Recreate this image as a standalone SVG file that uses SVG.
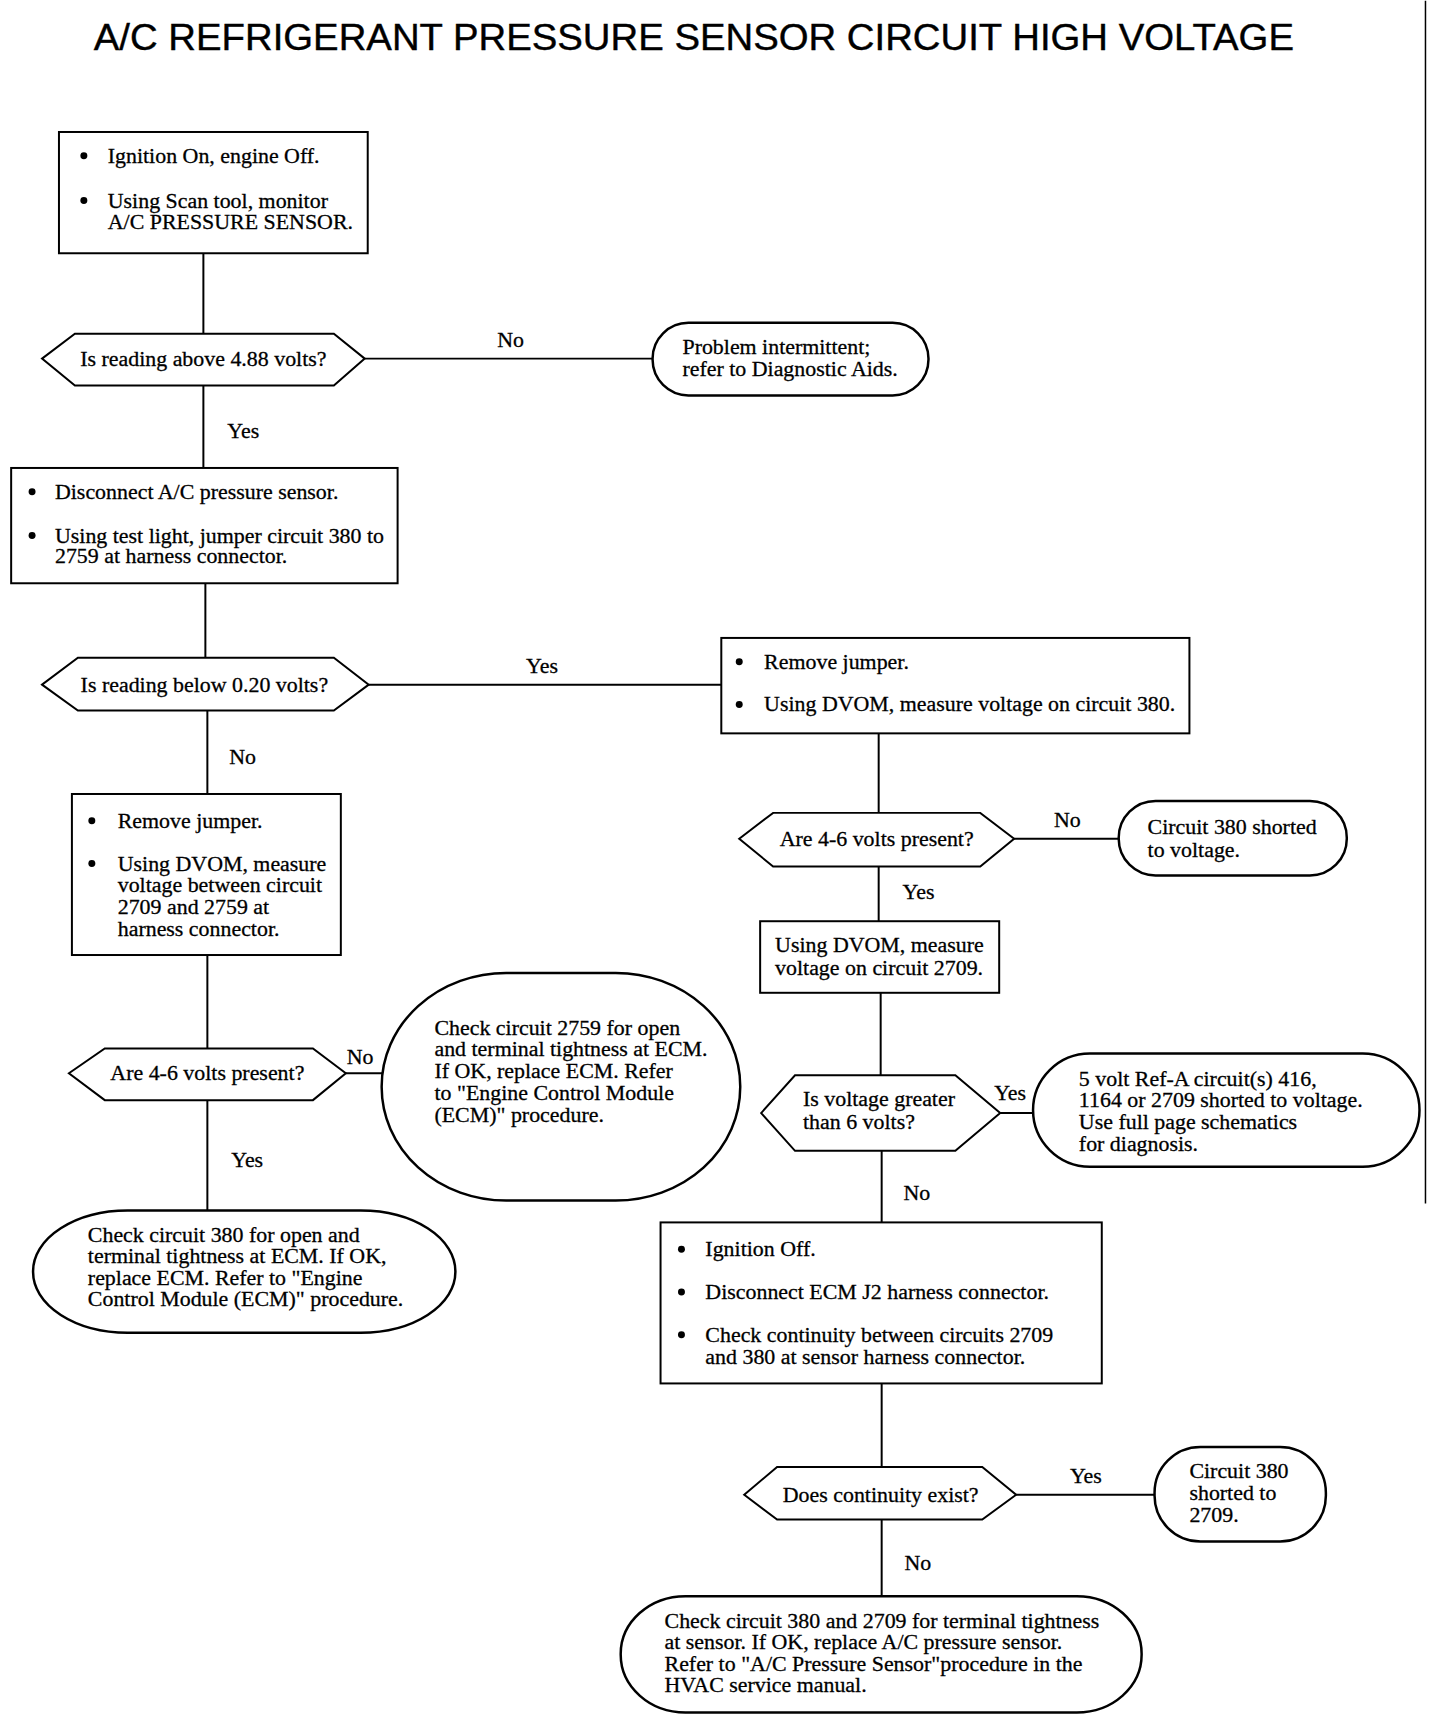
<svg xmlns="http://www.w3.org/2000/svg" width="1440" height="1730" viewBox="0 0 1440 1730">
<style>
.t{font-family:"Liberation Serif","Times New Roman",serif;font-size:22px;fill:#000;stroke:#000;stroke-width:0.3;}
.lbl{font-family:"Liberation Serif","Times New Roman",serif;font-size:22px;fill:#000;stroke:#000;stroke-width:0.3;}
.box{fill:#fff;stroke:#000;stroke-width:2;}
.term{fill:#fff;stroke:#000;stroke-width:2.5;}
.ln{stroke:#000;stroke-width:2;fill:none;}
.title{font-family:"Liberation Sans",Arial,sans-serif;font-size:37px;fill:#000;stroke:#000;stroke-width:0.4;}
</style>
<rect width="1440" height="1730" fill="#fff"/>
<g transform="matrix(0.996,0,0,0.994,0.2,0.78)">
<text class="title" x="94" y="50" textLength="1205" lengthAdjust="spacingAndGlyphs">A/C REFRIGERANT PRESSURE SENSOR CIRCUIT HIGH VOLTAGE</text>
<line x1="1431" y1="0" x2="1431" y2="1210" stroke="#000" stroke-width="1.5"/>

<g id="connectors">
<line class="ln" x1="204" y1="254" x2="204" y2="335"/>
<line class="ln" x1="366" y1="360" x2="655" y2="360"/>
<line class="ln" x1="204" y1="387" x2="204" y2="470"/>
<line class="ln" x1="206" y1="586" x2="206" y2="661"/>
<line class="ln" x1="370" y1="688" x2="724" y2="688"/>
<line class="ln" x1="208" y1="714" x2="208" y2="798"/>
<line class="ln" x1="208" y1="960" x2="208" y2="1054"/>
<line class="ln" x1="347" y1="1079" x2="385" y2="1079"/>
<line class="ln" x1="208" y1="1106" x2="208" y2="1217"/>
<line class="ln" x1="882" y1="737" x2="882" y2="817"/>
<line class="ln" x1="1018" y1="843" x2="1123" y2="843"/>
<line class="ln" x1="882" y1="871" x2="882" y2="926"/>
<line class="ln" x1="884" y1="998" x2="884" y2="1081"/>
<line class="ln" x1="1004" y1="1119" x2="1037" y2="1119"/>
<line class="ln" x1="885" y1="1157" x2="885" y2="1229"/>
<line class="ln" x1="885" y1="1391" x2="885" y2="1475"/>
<line class="ln" x1="1020" y1="1503" x2="1159" y2="1503"/>
<line class="ln" x1="885" y1="1528" x2="885" y2="1605"/>
<text class="lbl" x="499" y="348">No</text>
<text class="lbl" x="228" y="440">Yes</text>
<text class="lbl" x="528" y="676">Yes</text>
<text class="lbl" x="230" y="768">No</text>
<text class="lbl" x="348" y="1070">No</text>
<text class="lbl" x="232" y="1173">Yes</text>
<text class="lbl" x="1058" y="831">No</text>
<text class="lbl" x="906" y="904">Yes</text>
<text class="lbl" x="998" y="1106">Yes</text>
<text class="lbl" x="907" y="1206">No</text>
<text class="lbl" x="1074" y="1491">Yes</text>
<text class="lbl" x="908" y="1579">No</text>
</g>

<g id="n1">
<rect class="box" x="59" y="132" width="310" height="122"/>
<circle cx="84" cy="156" r="3.5"/>
<text class="t" x="108" y="163">Ignition On, engine Off.</text>
<circle cx="84" cy="201" r="3.5"/>
<text class="t" x="108" y="208">Using Scan tool, monitor</text>
<text class="t" x="108" y="230">A/C PRESSURE SENSOR.</text>
</g>

<g id="d1">
<polygon class="box" points="42,360 75,335 335,335 366,360 335,387 75,387"/>
<text class="t" x="204" y="367" text-anchor="middle">Is reading above 4.88 volts?</text>
</g>

<g id="t1">
<rect class="term" x="655" y="324" width="277" height="73" rx="36" ry="36"/>
<text class="t" x="685" y="355">Problem intermittent;</text>
<text class="t" x="685" y="377">refer to Diagnostic Aids.</text>
</g>

<g id="n2">
<rect class="box" x="11" y="470" width="388" height="116"/>
<circle cx="32" cy="494" r="3.5"/>
<text class="t" x="55" y="501">Disconnect A/C pressure sensor.</text>
<circle cx="32" cy="538" r="3.5"/>
<text class="t" x="55" y="545">Using test light, jumper circuit 380 to</text>
<text class="t" x="55" y="566">2759 at harness connector.</text>
</g>

<g id="d2">
<polygon class="box" points="42,688 78,661 335,661 370,688 335,714 78,714"/>
<text class="t" x="205" y="695" text-anchor="middle">Is reading below 0.20 volts?</text>
</g>

<g id="n3">
<rect class="box" x="724" y="641" width="470" height="96"/>
<circle cx="742" cy="665" r="3.5"/>
<text class="t" x="767" y="672">Remove jumper.</text>
<circle cx="742" cy="708" r="3.5"/>
<text class="t" x="767" y="715">Using DVOM, measure voltage on circuit 380.</text>
</g>

<g id="n4">
<rect class="box" x="72" y="798" width="270" height="162"/>
<circle cx="92" cy="825" r="3.5"/>
<text class="t" x="118" y="832">Remove jumper.</text>
<circle cx="92" cy="868" r="3.5"/>
<text class="t" x="118" y="875">Using DVOM, measure</text>
<text class="t" x="118" y="897">voltage between circuit</text>
<text class="t" x="118" y="919">2709 and 2759 at</text>
<text class="t" x="118" y="941">harness connector.</text>
</g>

<g id="d3">
<polygon class="box" points="69,1079 105,1054 314,1054 347,1079 314,1106 105,1106"/>
<text class="t" x="208" y="1086" text-anchor="middle">Are 4-6 volts present?</text>
</g>

<g id="t2">
<rect class="term" x="383" y="978" width="360" height="229" rx="125" ry="114"/>
<text class="t" x="436" y="1040">Check circuit 2759 for open</text>
<text class="t" x="436" y="1062">and terminal tightness at ECM.</text>
<text class="t" x="436" y="1084">If OK, replace ECM. Refer</text>
<text class="t" x="436" y="1106">to "Engine Control Module</text>
<text class="t" x="436" y="1128">(ECM)" procedure.</text>
</g>

<g id="t3">
<rect class="term" x="33" y="1217" width="424" height="123" rx="95" ry="61"/>
<text class="t" x="88" y="1249">Check circuit 380 for open and</text>
<text class="t" x="88" y="1270">terminal tightness at ECM. If OK,</text>
<text class="t" x="88" y="1292">replace ECM. Refer to "Engine</text>
<text class="t" x="88" y="1313">Control Module (ECM)" procedure.</text>
</g>

<g id="d4">
<polygon class="box" points="742,843 776,817 984,817 1018,843 984,871 776,871"/>
<text class="t" x="880" y="850" text-anchor="middle">Are 4-6 volts present?</text>
</g>

<g id="t4">
<rect class="term" x="1123" y="805" width="229" height="75" rx="37" ry="37"/>
<text class="t" x="1152" y="838">Circuit 380 shorted</text>
<text class="t" x="1152" y="861">to voltage.</text>
</g>

<g id="n5">
<rect class="box" x="763" y="926" width="240" height="72"/>
<text class="t" x="778" y="957">Using DVOM, measure</text>
<text class="t" x="778" y="980">voltage on circuit 2709.</text>
</g>

<g id="d5">
<polygon class="box" points="764,1119 798,1081 959,1081 1004,1119 959,1157 798,1157"/>
<text class="t" x="806" y="1112">Is voltage greater</text>
<text class="t" x="806" y="1135">than 6 volts?</text>
</g>

<g id="t5">
<rect class="term" x="1037" y="1059" width="388" height="114" rx="57" ry="57"/>
<text class="t" x="1083" y="1092">5 volt Ref-A circuit(s) 416,</text>
<text class="t" x="1083" y="1113">1164 or 2709 shorted to voltage.</text>
<text class="t" x="1083" y="1135">Use full page schematics</text>
<text class="t" x="1083" y="1157">for diagnosis.</text>
</g>

<g id="n6">
<rect class="box" x="663" y="1229" width="443" height="162"/>
<circle cx="684" cy="1256" r="3.5"/>
<text class="t" x="708" y="1263">Ignition Off.</text>
<circle cx="684" cy="1299" r="3.5"/>
<text class="t" x="708" y="1306">Disconnect ECM J2 harness connector.</text>
<circle cx="684" cy="1342" r="3.5"/>
<text class="t" x="708" y="1349">Check continuity between circuits 2709</text>
<text class="t" x="708" y="1371">and 380 at sensor harness connector.</text>
</g>

<g id="d6">
<polygon class="box" points="747,1503 780,1475 986,1475 1020,1503 986,1528 780,1528"/>
<text class="t" x="884" y="1510" text-anchor="middle">Does continuity exist?</text>
</g>

<g id="t6">
<rect class="term" x="1159" y="1455" width="172" height="95" rx="46" ry="46"/>
<text class="t" x="1194" y="1486">Circuit 380</text>
<text class="t" x="1194" y="1508">shorted to</text>
<text class="t" x="1194" y="1530">2709.</text>
</g>

<g id="t7">
<rect class="term" x="623" y="1605" width="523" height="117" rx="65" ry="58"/>
<text class="t" x="667" y="1637">Check circuit 380 and 2709 for terminal tightness</text>
<text class="t" x="667" y="1658">at sensor. If OK, replace A/C pressure sensor.</text>
<text class="t" x="667" y="1680">Refer to "A/C Pressure Sensor"procedure in the</text>
<text class="t" x="667" y="1701">HVAC service manual.</text>
</g>
</g>
</svg>
